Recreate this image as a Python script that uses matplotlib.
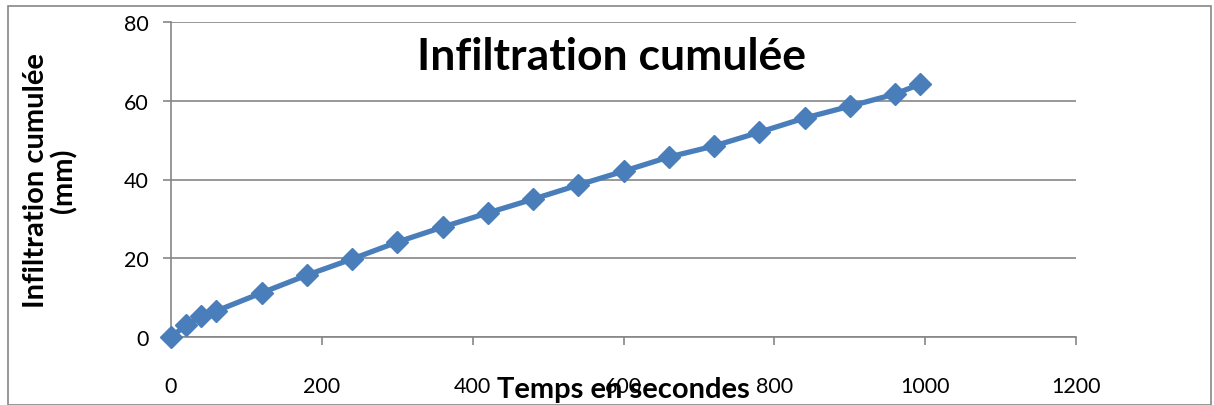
import matplotlib
matplotlib.use("Agg")
import matplotlib.pyplot as plt
from matplotlib.patches import Rectangle

temps = [0, 20, 40, 60, 120, 180, 240, 300, 360, 420, 480, 540, 600, 660, 720, 780, 840, 900, 960, 993]
infiltration = [0, 3.0, 5.3, 6.6, 11.2, 15.7, 19.8, 24.1, 27.9, 31.5, 35.0, 38.6, 42.1, 45.7, 48.5, 52.0, 55.6, 58.6, 61.7, 64.2]
xticks = [0, 200, 400, 600, 800, 1000, 1200]
yticks = [0, 20, 40, 60, 80]

plt.rcParams['font.family'] = ['Lato', 'DejaVu Sans']

W, H = 1214, 406
fig = plt.figure(figsize=(W / 100, H / 100), dpi=100)
ax = fig.add_axes([171 / W, 1 - 338 / H, (1076 - 171) / W, (338 - 23) / H])

grid_c = '#868686'
ax.plot(temps, infiltration, color='#4a7ebb', linewidth=3.8, marker='D', markersize=11.5,
        markerfacecolor='#4a7ebb', markeredgecolor='#4a7ebb', zorder=3, clip_on=False)

ax.set_xlim(0, 1200)
ax.set_ylim(0, 80)
ax.set_xticks(xticks)
ax.set_yticks(yticks)
ax.set_xticklabels([str(v) for v in xticks], fontsize=15.5)
ax.set_yticklabels([str(v) for v in yticks], fontsize=15.5)
ax.yaxis.grid(True, color=grid_c, linewidth=1.2)
ax.set_axisbelow(True)
for s in ['top', 'right']:
    ax.spines[s].set_visible(False)
for s in ['left', 'bottom']:
    ax.spines[s].set_color(grid_c)
    ax.spines[s].set_linewidth(1.2)
ax.tick_params(axis='both', direction='out', length=6, color=grid_c, width=1.2)
ax.tick_params(axis='x', pad=22)
ax.tick_params(axis='y', pad=10)

fig.text(611 / W, 1 - 57 / H, 'Infiltration cumulée', ha='center', va='center',
         fontsize=32, fontweight='bold')
fig.text(50 / W, 1 - 181 / H, 'Infiltration cumulée\n(mm)', ha='center', va='center',
         rotation=90, fontsize=21, fontweight='bold', linespacing=1.05)
fig.text(623 / W, 1 - 390 / H, 'Temps en secondes', ha='center', va='center',
         fontsize=21, fontweight='bold')

fig.patches.append(Rectangle((8 / W, 0), (1211 - 8) / W, 1 - 7 / H, transform=fig.transFigure,
                             fill=False, edgecolor=grid_c, linewidth=1.2))

fig.savefig('out.png', dpi=100)
